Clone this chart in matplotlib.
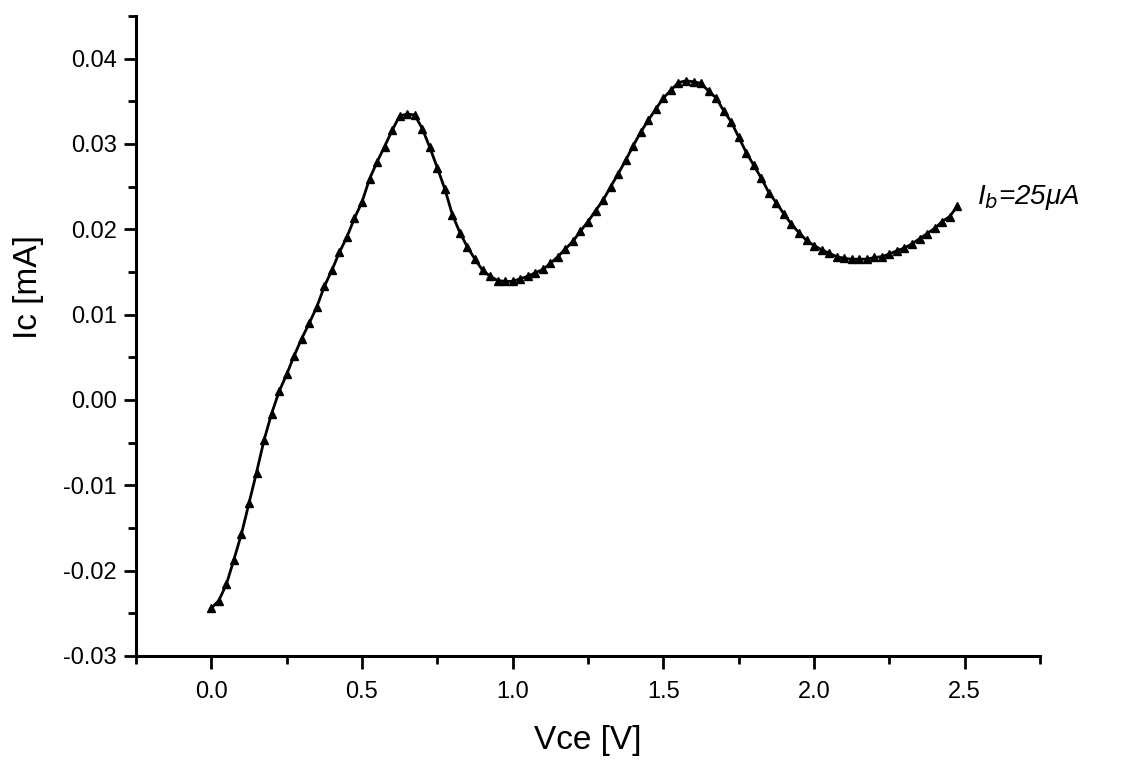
import numpy as np
import matplotlib
matplotlib.use("Agg")
import matplotlib.pyplot as plt
from matplotlib.ticker import MultipleLocator, FormatStrFormatter

# Vce sweep (V), measured grid
vce = [0.000, 0.025, 0.050, 0.075, 0.100, 0.125, 0.150, 0.175, 0.200, 0.225,
       0.250, 0.275, 0.300, 0.325, 0.350, 0.375, 0.400, 0.425, 0.450, 0.475,
       0.500, 0.525, 0.550, 0.575, 0.600, 0.625, 0.650, 0.675, 0.700, 0.725,
       0.750, 0.775, 0.800, 0.825, 0.850, 0.875, 0.900, 0.925, 0.950, 0.975,
       1.000, 1.025, 1.050, 1.075, 1.100, 1.125, 1.150, 1.175, 1.200, 1.225,
       1.250, 1.275, 1.300, 1.325, 1.350, 1.375, 1.400, 1.425, 1.450, 1.475,
       1.500, 1.525, 1.550, 1.575, 1.600, 1.625, 1.650, 1.675, 1.700, 1.725,
       1.750, 1.775, 1.800, 1.825, 1.850, 1.875, 1.900, 1.925, 1.950, 1.975,
       2.000, 2.025, 2.050, 2.075, 2.100, 2.125, 2.150, 2.175, 2.200, 2.225,
       2.250, 2.275, 2.300, 2.325, 2.350, 2.375, 2.400, 2.425, 2.450, 2.475]

# Ic (mA)
ic = [-0.0244, -0.0235, -0.0216, -0.0187, -0.0157, -0.0121, -0.0085, -0.0047, -0.0016, 0.0010,
      0.0030, 0.0052, 0.0072, 0.0090, 0.0109, 0.0133, 0.0152, 0.0173, 0.0191, 0.0213,
      0.0232, 0.0259, 0.0279, 0.0297, 0.0316, 0.0333, 0.0335, 0.0334, 0.0318, 0.0296,
      0.0272, 0.0247, 0.0217, 0.0196, 0.0179, 0.0165, 0.0152, 0.0145, 0.0140, 0.0139,
      0.0139, 0.0142, 0.0145, 0.0149, 0.0153, 0.0160, 0.0168, 0.0177, 0.0186, 0.0198,
      0.0209, 0.0222, 0.0234, 0.0250, 0.0265, 0.0281, 0.0298, 0.0314, 0.0328, 0.0341,
      0.0354, 0.0363, 0.0372, 0.0374, 0.0373, 0.0371, 0.0362, 0.0354, 0.0339, 0.0326,
      0.0308, 0.0290, 0.0275, 0.0260, 0.0243, 0.0231, 0.0218, 0.0206, 0.0196, 0.0187,
      0.0181, 0.0176, 0.0172, 0.0168, 0.0166, 0.0165, 0.0165, 0.0165, 0.0167, 0.0168,
      0.0171, 0.0175, 0.0178, 0.0183, 0.0189, 0.0195, 0.0201, 0.0209, 0.0215, 0.0227]

x_label = "Vce [V]"
y_label = "Ic [mA]"
annotation = "I$_b$=25μA"

plt.rcParams['font.family'] = ['Liberation Sans', 'DejaVu Sans']

fig = plt.figure(figsize=(11.33, 7.61), dpi=100)
ax = fig.add_axes([0.12, 0.138, 0.798, 0.841])

ax.plot(vce, ic, color='black', lw=2.0, marker='^', markersize=5.5,
        markerfacecolor='black', markeredgecolor='black')

ax.set_xlim(-0.25, 2.75)
ax.set_ylim(-0.03, 0.045)

ax.xaxis.set_major_locator(MultipleLocator(0.5))
ax.xaxis.set_minor_locator(MultipleLocator(0.25))
ax.yaxis.set_major_locator(MultipleLocator(0.01))
ax.yaxis.set_minor_locator(MultipleLocator(0.005))
ax.xaxis.set_major_formatter(FormatStrFormatter('%.1f'))
ax.yaxis.set_major_formatter(FormatStrFormatter('%.2f'))

for s in ['top', 'right']:
    ax.spines[s].set_visible(False)
for s in ['left', 'bottom']:
    ax.spines[s].set_linewidth(2.2)

ax.tick_params(which='major', direction='out', length=9, width=2.0, labelsize=17)
ax.tick_params(axis='x', which='major', pad=9)
ax.tick_params(axis='y', which='major', pad=5)
ax.tick_params(which='minor', direction='out', length=6, width=2.0)

ax.set_xlabel(x_label, fontsize=24, labelpad=16)
ax.set_ylabel(y_label, fontsize=24)
ax.yaxis.set_label_coords(-0.102, 0.577)

ax.text(2.54, 0.0237, annotation, fontsize=20, ha='left', va='center',
        style='italic', clip_on=False)

fig.savefig('out.png', dpi=100, facecolor='white')
